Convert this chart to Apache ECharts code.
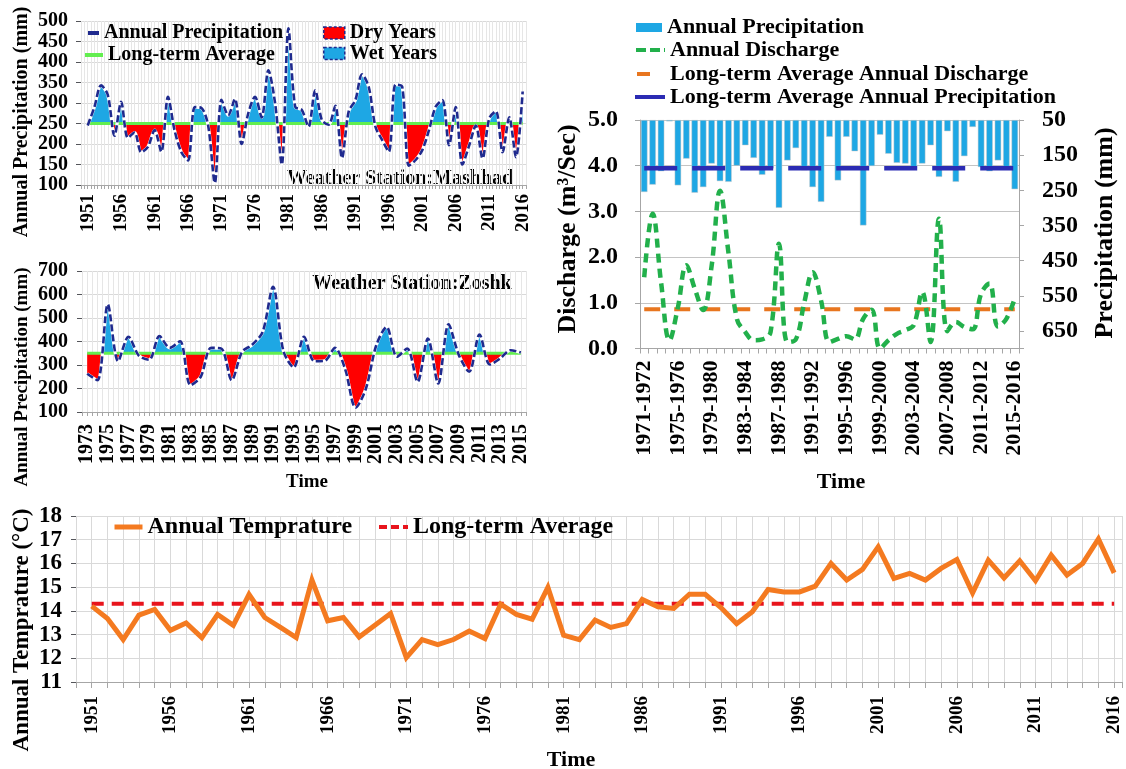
<!DOCTYPE html>
<html>
<head>
<meta charset="utf-8">
<script src="https://cdn.jsdelivr.net/npm/echarts@6/dist/echarts.min.js"></script>
<style>
  html, body { margin: 0; padding: 0; background: #ffffff; }
  #chart { width: 1126px; height: 769px; }
</style>
</head>
<body>
<div id="chart"></div>
<script>
function range(a, b) { const out = []; for (let v = a; v <= b; v++) out.push(v); return out; }

// Mashhad station: annual precipitation (mm), 1951-2016
const mashhadYears = range(1951, 2016);
const mashhadPrecip = [245, 290, 343, 320, 220, 303, 215, 228, 180, 193,
  234, 181, 315, 232, 180, 160, 290, 288, 245, 105,
  308, 270, 310, 200, 275, 315, 265, 380, 300, 150,
  482, 291, 283, 242, 331, 258, 247, 293, 166, 279,
  307, 370, 339, 242, 210, 181, 345, 340, 147, 161,
  185, 234, 291, 307, 197, 290, 150, 196, 245, 165,
  262, 280, 180, 265, 168, 328];
const mashhadAverage = 250;

// Zoshk station: annual precipitation (mm), 1973-2015
const zoshkYears = range(1973, 2015);
const zoshkPrecip = [263, 235, 558, 316, 420, 340, 322, 423, 373, 401,
  214, 250, 373, 370, 235, 356, 387, 441, 633, 360,
  290, 420, 316, 318, 373, 280, 118, 200, 384, 462,
  335, 370, 228, 413, 221, 473, 342, 271, 430, 302,
  328, 363, 353];
const zoshkAverage = 350;

// Hydrological years 1971-1972 ... 2015-2016
const hydroYears = range(1971, 2015).map(y => y + '-' + (y + 1));
const hydroPrecip = [255, 234, 196, 54, 236, 160, 257, 241, 174, 224,
  226, 180, 122, 158, 206, 188, 300, 165, 130, 193,
  241, 283, 98, 222, 98, 139, 350, 181, 92, 146,
  172, 174, 188, 174, 122, 212, 82, 226, 153, 70,
  184, 196, 165, 184, 247];
const discharge = [1.56, 2.95, 1.45, 0.18, 0.9, 1.82, 1.31, 0.84, 1.8, 3.45,
  2.1, 0.65, 0.36, 0.18, 0.2, 0.36, 2.29, 0.14, 0.2, 1.0,
  1.67, 1.05, 0.14, 0.21, 0.27, 0.2, 0.65, 0.85, 0.0, 0.18,
  0.32, 0.4, 0.51, 1.24, 0.14, 2.84, 0.38, 0.58, 0.47, 0.42,
  1.2, 1.42, 0.48, 0.65, 1.1];
const dischargeAverage = 0.86;
const hydroPrecipAverage = 187;

// Annual temperature (°C), 1951-2016
const tempYears = range(1951, 2016);
const temperature = [14.2, 13.68, 12.79, 13.82, 14.06, 13.18, 13.49, 12.87, 13.85, 13.39,
  14.69, 13.72, 13.3, 12.87, 15.3, 13.58, 13.72, 12.9, 13.39, 13.89,
  12.03, 12.79, 12.58, 12.79, 13.15, 12.83, 14.28, 13.85, 13.65, 14.99,
  12.97, 12.79, 13.61, 13.3, 13.46, 14.48, 14.17, 14.1, 14.7, 14.7,
  14.14, 13.46, 13.96, 14.9, 14.8, 14.8, 15.04, 16.0, 15.3, 15.75,
  16.7, 15.37, 15.58, 15.3, 15.79, 16.17, 14.76, 16.14, 15.39, 16.11,
  15.27, 16.35, 15.51, 16.0, 17.03, 15.6];
const temperatureAverage = 14.3;

const FONT = '"Liberation Serif", "Times New Roman", serif';
const NAVY = '#1f2a8e';
const WET = '#1ea7e4';
const DRY = '#ff0000';
const CLEAR = 'rgba(0,0,0,0)';
const AVG_GREEN = '#62ee4f';
const Q_GREEN = '#22b04b';
const Q_ORANGE = '#e8761f';
const P_NAVY = '#2b2bb3';
const T_ORANGE = '#f47a20';
const T_RED = '#e8141c';
const AXIS_GREY = '#a6a6a6';
const GRID_GREY = '#d9d9d9';

const pairs = (xs, ys) => xs.map((x, i) => [x, ys[i]]);
const flat = (xs, v) => xs.map(x => [x, v]);
const isWhole = v => Math.abs(v - Math.round(v)) < 1e-6;
const yearLabel = (first, step) => v => (isWhole(v) && (Math.round(v) - first) % step === 0) ? String(Math.round(v)) : '';
const lbl = size => ({ color: '#000', fontFamily: FONT, fontWeight: 'bold', fontSize: size });
const txt = (text, x, y, size, rot) => ({
  type: 'text', x: x, y: y, rotation: rot || 0, silent: true,
  style: { text: text, font: 'bold ' + size + 'px ' + FONT, fill: '#000', align: 'center', verticalAlign: 'middle' }
});
const legendBox = (opt) => Object.assign({
  selectedMode: false, orient: 'vertical', itemGap: 0, padding: 0,
  textStyle: lbl(20)
}, opt);
// colour bands split at the long-term average; bounds are finite so the gradient gets real stops
const splitPieces = (avg, below, above) => [
  { gte: -10000, lt: avg, color: below },
  { gte: avg, lte: 10000, color: above }
];

const precipLine = (xi, yi, xs, ys) => ([
  { name: 'outline', type: 'line', xAxisIndex: xi, yAxisIndex: yi, data: pairs(xs, ys), smooth: 0.3,
    symbol: 'none', silent: true, z: 4, lineStyle: { color: '#ffffff', width: 3.2 } },
  { name: 'Annual Precipitation', type: 'line', xAxisIndex: xi, yAxisIndex: yi, data: pairs(xs, ys), smooth: 0.3,
    symbol: 'none', z: 5, lineStyle: { color: NAVY, width: 2.6, type: [7, 3] } }
]);
const fillSeries = (name, xi, yi, xs, ys, avg) => ({
  name: name, type: 'line', xAxisIndex: xi, yAxisIndex: yi, data: pairs(xs, ys), smooth: 0.3,
  symbol: 'none', z: 2, lineStyle: { width: 0, opacity: 0 }, areaStyle: { origin: avg, opacity: 1 }
});

const option = {
  backgroundColor: '#ffffff',
  animation: false,
  grid: [
    { left: 81, top: 21, width: 445, height: 164 },
    { left: 82, top: 271, width: 444, height: 141 },
    { left: 640, top: 120, width: 379, height: 228.5 },
    { left: 76, top: 516, width: 1046, height: 166 }
  ],
  xAxis: [
    { type: 'value', gridIndex: 0, min: 1950, max: 2016.5, interval: 0.5,
      axisLine: { onZero: false, lineStyle: { color: AXIS_GREY } },
      axisTick: { show: true, length: 4, lineStyle: { color: AXIS_GREY } },
      splitLine: { show: true, lineStyle: { color: '#e6e6e6' } },
      axisLabel: Object.assign(lbl(19), { rotate: 90, margin: 9, formatter: yearLabel(1951, 5) }) },
    { type: 'value', gridIndex: 1, min: 1972.5, max: 2015.5, interval: 0.5,
      axisLine: { onZero: false, lineStyle: { color: AXIS_GREY } },
      axisTick: { show: true, length: 4, lineStyle: { color: AXIS_GREY } },
      splitLine: { show: true, lineStyle: { color: '#e6e6e6' } },
      axisLabel: Object.assign(lbl(20), { rotate: 90, margin: 12, formatter: yearLabel(1973, 2) }) },
    { type: 'category', gridIndex: 2, data: hydroYears, boundaryGap: true,
      axisLine: { lineStyle: { color: AXIS_GREY } },
      axisTick: { show: true, interval: 0, length: 5, lineStyle: { color: AXIS_GREY } },
      splitLine: { show: false },
      axisLabel: Object.assign(lbl(22), { rotate: 90, interval: 3, margin: 12 }) },
    { type: 'value', gridIndex: 3, min: 1950, max: 2016.5, interval: 1,
      axisLine: { onZero: false, lineStyle: { color: AXIS_GREY } },
      axisTick: { show: true, length: 6, lineStyle: { color: AXIS_GREY } },
      splitLine: { show: true, lineStyle: { color: GRID_GREY } },
      axisLabel: Object.assign(lbl(19), { rotate: 90, margin: 14, formatter: yearLabel(1951, 5) }) }
  ],
  yAxis: [
    { type: 'value', gridIndex: 0, min: 100, max: 500, interval: 50,
      axisLine: { show: false }, splitLine: { lineStyle: { color: GRID_GREY } },
      axisLabel: Object.assign(lbl(20), { margin: 13, showMinLabel: true, showMaxLabel: true }) },
    { type: 'value', gridIndex: 1, min: 100, max: 700, interval: 100,
      axisLine: { show: false }, splitLine: { lineStyle: { color: GRID_GREY } },
      axisLabel: Object.assign(lbl(20), { margin: 14, showMinLabel: true, showMaxLabel: true }) },
    { type: 'value', gridIndex: 2, min: 0, max: 5, interval: 1, position: 'left',
      axisLine: { show: true, lineStyle: { color: AXIS_GREY } },
      axisTick: { show: true, length: 5, lineStyle: { color: AXIS_GREY } },
      splitLine: { lineStyle: { color: '#c4c4c4' } },
      axisLabel: Object.assign(lbl(24), { margin: 22, showMinLabel: true, showMaxLabel: true, formatter: v => v.toFixed(1) }) },
    { type: 'value', gridIndex: 2, min: 50, max: 700, interval: 100, position: 'right', inverse: true,
      startValue: 50,
      axisLine: { show: true, lineStyle: { color: AXIS_GREY } },
      axisTick: { show: true, length: 5, lineStyle: { color: AXIS_GREY } },
      splitLine: { show: false },
      axisLabel: Object.assign(lbl(24), { margin: 23, showMinLabel: true, formatter: v => (v <= 650 ? String(v) : '') }) },
    { type: 'value', gridIndex: 3, min: 11, max: 18, interval: 1,
      axisLine: { show: false }, splitLine: { lineStyle: { color: GRID_GREY } },
      axisLabel: Object.assign(lbl(23), { margin: 14, showMinLabel: true, showMaxLabel: true }) }
  ],
  visualMap: [
    { type: 'piecewise', show: false, seriesIndex: 0, dimension: 1, pieces: splitPieces(mashhadAverage, CLEAR, WET) },
    { type: 'piecewise', show: false, seriesIndex: 1, dimension: 1, pieces: splitPieces(mashhadAverage, DRY, CLEAR) },
    { type: 'piecewise', show: false, seriesIndex: 5, dimension: 1, pieces: splitPieces(zoshkAverage, CLEAR, WET) },
    { type: 'piecewise', show: false, seriesIndex: 6, dimension: 1, pieces: splitPieces(zoshkAverage, DRY, CLEAR) }
  ],
  legend: [
    legendBox({ left: 88, top: 23, itemWidth: 11, itemHeight: 4,
      data: [{ name: 'Annual Precipitation', icon: 'rect', itemStyle: { color: NAVY, borderWidth: 0 } }] }),
    legendBox({ left: 85, top: 45, itemWidth: 18, itemHeight: 4,
      data: [{ name: 'Long-term Average', icon: 'rect', itemStyle: { color: AVG_GREEN, borderWidth: 0 } }] }),
    legendBox({ left: 323, top: 23, itemWidth: 21, itemHeight: 12,
      data: [{ name: 'Dry Years', icon: 'rect', itemStyle: { color: DRY, borderColor: NAVY, borderWidth: 1.5, borderType: [3, 2] } }] }),
    legendBox({ left: 323, top: 43.5, itemWidth: 21, itemHeight: 12,
      data: [{ name: 'Wet Years', icon: 'rect', itemStyle: { color: WET, borderColor: NAVY, borderWidth: 1.5, borderType: [3, 2] } }] }),
    legendBox({ left: 636, top: 16.5, itemWidth: 26, itemHeight: 9, textStyle: lbl(22),
      data: [{ name: 'Annual Precipitation', icon: 'rect', itemStyle: { color: WET, borderWidth: 0 } }] }),
    legendBox({ left: 634, top: 39, itemWidth: 29, itemHeight: 10, textStyle: lbl(22),
      data: [{ name: 'Annual Discharge', itemStyle: { opacity: 0 }, lineStyle: { color: Q_GREEN, width: 4, type: [10, 4] } }] }),
    legendBox({ left: 635, top: 63, itemWidth: 28, itemHeight: 10, textStyle: lbl(22),
      data: [{ name: 'Long-term Average Annual Discharge', itemStyle: { opacity: 0 }, lineStyle: { color: Q_ORANGE, width: 4, type: [13, 20] } }] }),
    legendBox({ left: 633, top: 86, itemWidth: 30, itemHeight: 10, textStyle: lbl(22),
      data: [{ name: 'Long-term Average Annual Precipitation', itemStyle: { opacity: 0 }, lineStyle: { color: P_NAVY, width: 4, type: 'solid' } }] }),
    legendBox({ left: 112, top: 515, itemWidth: 28, itemHeight: 12, textStyle: lbl(24),
      data: [{ name: 'Annual Temprature', itemStyle: { opacity: 0 }, lineStyle: { color: T_ORANGE, width: 5 } }] }),
    legendBox({ left: 377, top: 515, itemWidth: 29, itemHeight: 12, textStyle: lbl(24),
      data: [{ name: 'Long-term Average', itemStyle: { opacity: 0 }, lineStyle: { color: T_RED, width: 4, type: [8, 4] } }] })
  ],
  series: [
    // Mashhad (series 0-4)
    fillSeries('Wet Years', 0, 0, mashhadYears, mashhadPrecip, mashhadAverage),
    fillSeries('Dry Years', 0, 0, mashhadYears, mashhadPrecip, mashhadAverage),
    { name: 'Long-term Average', type: 'line', xAxisIndex: 0, yAxisIndex: 0, data: flat(mashhadYears, mashhadAverage),
      symbol: 'none', z: 3, lineStyle: { color: AVG_GREEN, width: 3 } },
    ...precipLine(0, 0, mashhadYears, mashhadPrecip),
    // Zoshk (series 5-9)
    fillSeries('Wet Years', 1, 1, zoshkYears, zoshkPrecip, zoshkAverage),
    fillSeries('Dry Years', 1, 1, zoshkYears, zoshkPrecip, zoshkAverage),
    { name: 'Long-term Average', type: 'line', xAxisIndex: 1, yAxisIndex: 1, data: flat(zoshkYears, zoshkAverage),
      symbol: 'none', z: 3, lineStyle: { color: AVG_GREEN, width: 3 } },
    ...precipLine(1, 1, zoshkYears, zoshkPrecip),
    // Discharge and precipitation by hydrological year (series 10-13)
    { name: 'Annual Precipitation', type: 'bar', xAxisIndex: 2, yAxisIndex: 3, data: hydroPrecip,
      barCategoryGap: '22%', clip: true, z: 2,
      itemStyle: { color: WET, borderColor: 'rgba(200,200,200,0.8)', borderWidth: 0.6 } },
    { name: 'Annual Discharge', type: 'line', xAxisIndex: 2, yAxisIndex: 2, data: discharge, smooth: 0.4,
      symbol: 'none', z: 4, lineStyle: { color: Q_GREEN, width: 4.5, type: [9, 6] } },
    { name: 'Long-term Average Annual Discharge', type: 'line', xAxisIndex: 2, yAxisIndex: 2,
      data: hydroYears.map(() => dischargeAverage),
      symbol: 'none', z: 3, lineStyle: { color: Q_ORANGE, width: 4, type: [16, 14] } },
    { name: 'Long-term Average Annual Precipitation', type: 'line', xAxisIndex: 2, yAxisIndex: 3,
      data: hydroYears.map(() => hydroPrecipAverage),
      symbol: 'none', z: 3, lineStyle: { color: P_NAVY, width: 4.5, type: [33, 15] } },
    // Temperature (series 14-15)
    { name: 'Annual Temprature', type: 'line', xAxisIndex: 3, yAxisIndex: 4, data: pairs(tempYears, temperature),
      symbol: 'none', z: 4, lineStyle: { color: T_ORANGE, width: 5, join: 'miter' } },
    { name: 'Long-term Average', type: 'line', xAxisIndex: 3, yAxisIndex: 4, data: flat(tempYears, temperatureAverage),
      symbol: 'none', z: 3, lineStyle: { color: T_RED, width: 4, type: [12, 8] } }
  ],
  graphic: [
    txt('Annual Precipitation (mm)', 22, 122, 20, Math.PI / 2),
    txt('Annual Precipitation (mm)', 22, 377, 19, Math.PI / 2),
    txt('Discharge (m\u00b3/Sec)', 568, 229, 26, Math.PI / 2),
    txt('Precipitation (mm)', 1105, 233, 26, Math.PI / 2),
    txt('Annual Temprature (\u00b0C)', 22, 630, 23, Math.PI / 2),
    txt('Time', 307, 482, 19),
    txt('Time', 841, 482, 22),
    txt('Time', 571, 760, 22),
    txt('Weather Station:Mashhad', 400, 179, 20),
    txt('Weather Station:Zoshk', 412, 284, 20)
  ]
};

const chart = echarts.init(document.getElementById('chart'), null, { renderer: 'canvas' });
chart.setOption(option);
</script>
</body>
</html>
